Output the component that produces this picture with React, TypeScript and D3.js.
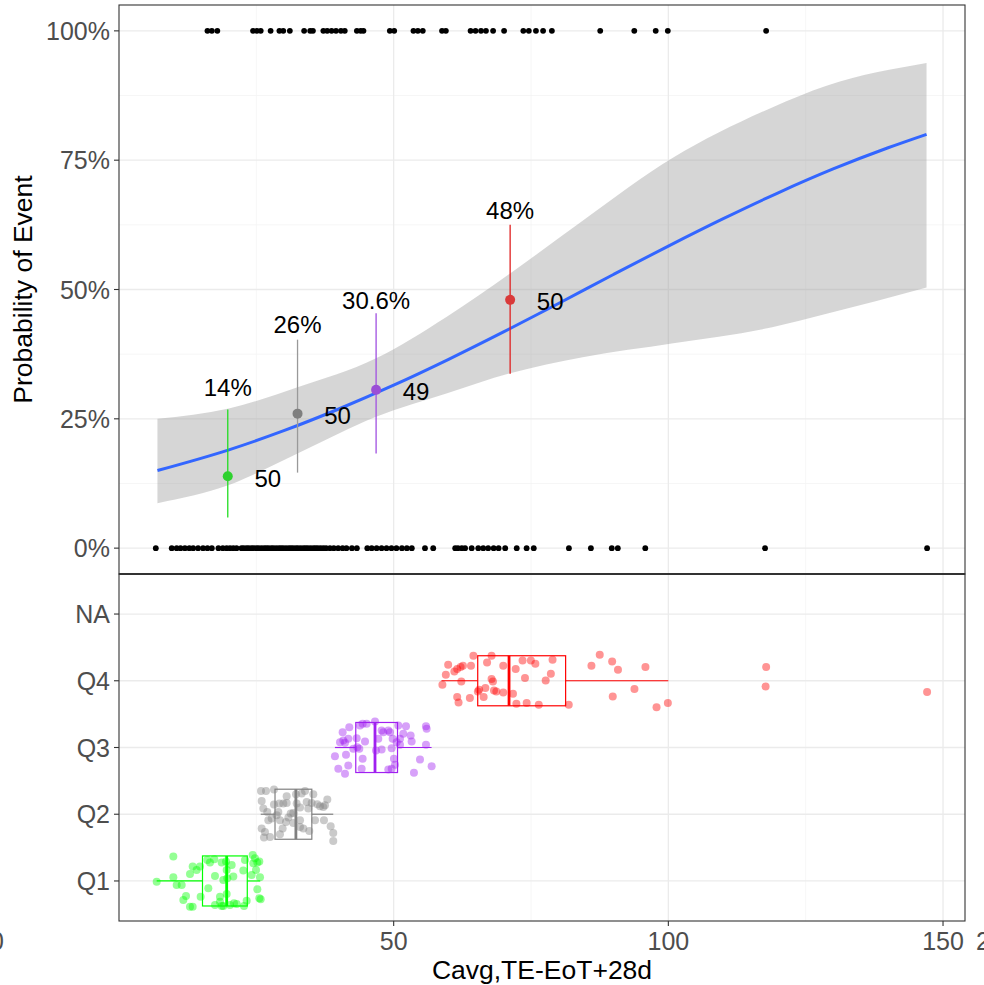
import React from "react";
import * as d3 from "d3";

// fitted logistic curve + 95% band
const fitX = [7, 20, 30, 40, 50, 60, 70, 80, 90, 100, 110, 120, 130, 140, 147];
const fitP = [0.150, 0.190, 0.227, 0.269, 0.315, 0.365, 0.418, 0.473, 0.529, 0.584, 0.637, 0.687, 0.733, 0.774, 0.800];
const ribX = [7, 20, 32.5, 46.8, 59.6, 71.2, 84.4, 100.9, 118.9, 128.8, 147];
const ribLo = [0.087, 0.122, 0.183, 0.254, 0.299, 0.338, 0.369, 0.396, 0.427, 0.453, 0.504];
const ribHi = [0.250, 0.270, 0.311, 0.367, 0.447, 0.531, 0.633, 0.755, 0.852, 0.894, 0.938];

// quartile groups
const groups = ["Q1", "Q2", "Q3", "Q4"];
const yCats = ["NA", "Q4", "Q3", "Q2", "Q1"];
const groupColors = ["#00FF00", "#808080", "#A020F0", "#FF0000"];
const pointColors = ["#2FD12F", "#7F7F7F", "#9A4ED6", "#D93A3A"];
const barColors = ["#22DD22", "#999999", "#A050E0", "#E02020"];
const groupMeanX = [19.8, 32.5, 46.8, 71.2];
const groupProb = [0.139, 0.26, 0.306, 0.48];
const groupLo = [0.059, 0.146, 0.183, 0.337];
const groupHi = [0.268, 0.403, 0.454, 0.625];
const groupN = ["50", "50", "49", "50"];
const probLabels = ["14%", "26%", "30.6%", "48%"];

// box stats: [whisker lo, q1, median, q3, whisker hi]
const boxStats = [
  [6.86, 15.2, 19.6, 23.35, 25.7],
  [25.8, 28.4, 32.2, 35.1, 39.0],
  [39.3, 43.1, 46.6, 50.7, 56.9],
  [58.7, 65.3, 71.0, 81.3, 100.0],
];

// rug: outcomes
const eventX = [16.1, 16.9, 17.9, 24.4, 25.1, 25.8, 27.6, 29.2, 29.9, 31.1, 33.7, 34.8, 35.3, 37.2, 37.9, 38.7, 39.5, 40.4, 41.1,
  43.3, 44.0, 44.5, 49.3, 50.1, 53.6, 54.4, 55.3, 58.8, 59.5, 64.0, 64.9, 65.9, 66.8, 68.1, 70.1, 73.6, 74.6, 75.9, 77.2, 78.8,
  87.6, 93.8, 97.7, 99.9, 117.8];
const noEventX = [6.7, 9.6, 10.5, 11.2, 12.0, 12.8, 13.5, 14.4, 15.3, 16.1, 16.9, 18.1, 18.9, 19.6, 20.2, 20.8, 21.4, 22.3, 22.7,
  23.2, 23.6, 24.1, 24.5, 25.0, 25.4, 25.9, 26.4, 26.8, 27.2, 27.7, 28.1, 28.6, 29.1, 29.5, 29.9, 30.4, 30.9, 31.3, 31.7, 32.2,
  32.6, 33.1, 33.6, 34.0, 34.4, 34.9, 35.4, 35.8, 36.2, 36.7, 37.2, 37.7, 38.4, 39.1, 39.9, 40.7, 41.4, 42.4, 43.3, 45.2, 46.0,
  46.9, 47.8, 48.7, 49.6, 50.5, 51.5, 52.4, 53.3, 55.7, 57.2, 61.2, 61.7, 62.4, 63.0, 64.2, 65.4, 66.3, 67.2, 68.2, 69.1, 70.3,
  72.4, 74.2, 75.5, 81.9, 85.9, 89.7, 90.8, 95.8, 117.6, 147.1];

// jittered points per group: [x, vertical jitter in category units]
const q1Pts = [[9.89, 0.365], [6.86, -0.01], [9.89, 0.055], [10.5, -0.06], [11.41, -0.06], [11.71, -0.285], [12.2, -0.225],
  [12.92, -0.385], [13.41, -0.385], [12.92, 0.105], [13.41, 0.215], [14.74, 0.215], [14.86, -0.235], [16.26, -0.11],
  [16.56, 0.275], [17.35, 0.325], [17.47, 0.075], [18.38, -0.235], [18.69, 0.275], [18.99, 0.015], [19.48, 0.29], [19.6, 0.165],
  [19.72, 0.04], [19.6, -0.195], [20.51, 0.24], [20.81, 0.065], [20.93, -0.335], [21.42, -0.345], [22.63, 0.155], [22.93, 0.315],
  [22.75, -0.375], [23.24, -0.295], [24.33, 0.39], [24.75, 0.34], [24.45, 0.265], [24.94, 0.165], [25.18, 0.275], [25.54, 0.29],
  [25.67, 0.055], [25.18, -0.125], [25.54, -0.26], [25.79, -0.275], [17.47, -0.36], [18.69, -0.375], [18.99, -0.375],
  [20.2, -0.36], [16.08, 0.315], [18.38, -0.31], [24.15, 0.09], [14.13, 0.165]];
const q2Pts = [[25.85, 0.35], [26.76, 0.35], [28.21, 0.37], [25.97, 0.2], [28.21, 0.145], [29.18, 0.16], [29.91, 0.16],
  [30.52, 0.17], [29.0, 0.035], [28.7, -0.015], [29.3, -0.09], [30.4, -0.115], [31.25, 0.01], [31.73, -0.13], [32.95, -0.09],
  [32.34, 0.16], [33.25, 0.31], [33.86, 0.35], [34.16, 0.185], [35.07, 0.17], [35.37, 0.3], [36.1, 0.15], [36.59, 0.12],
  [37.19, 0.11], [37.5, 0.135], [37.92, 0.22], [35.68, -0.09], [37.31, -0.09], [38.53, -0.18], [39.0, -0.28], [39.0, -0.4],
  [34.64, -0.25], [32.95, -0.19], [33.55, -0.215], [31.73, 0.02], [29.79, -0.215], [29.3, -0.3], [27.49, -0.34],
  [26.39, -0.35], [25.97, -0.215], [26.57, -0.265], [26.99, 0.035], [27.18, -0.09], [27.79, -0.065], [30.52, 0.27],
  [32.22, 0.3], [30.83, -0.05], [32.95, 0.1], [26.27, 0.085], [34.46, 0.085]];
const q3Pts = [[39.31, -0.13], [39.92, -0.32], [40.71, 0.23], [40.83, 0.105], [41.14, 0.07], [41.32, -0.11], [41.74, -0.27],
  [41.92, 0.305], [41.74, 0.13], [41.14, -0.395], [43.26, 0.14], [43.38, 0.005], [43.74, -0.02], [44.17, -0.32], [44.35, -0.17],
  [44.78, 0.09], [43.87, 0.33], [46.6, 0.39], [46.78, -0.045], [47.2, 0.13], [47.81, -0.03], [48.11, 0.23], [49.02, 0.255],
  [49.33, 0.23], [49.63, -0.01], [49.81, 0.13], [50.05, -0.17], [50.24, -0.26], [49.63, -0.32], [49.02, -0.33], [50.54, 0.08],
  [50.84, 0.33], [51.15, 0.13], [51.75, 0.205], [52.24, 0.32], [53.09, 0.18], [53.27, 0.09], [54.79, -0.18], [53.69, -0.38],
  [55.88, 0.32], [56.0, 0.28], [55.88, 0.04], [56.91, -0.28], [44.35, 0.355], [45.08, 0.355], [47.81, 0.255], [51.15, 0.04],
  [40.23, 0.08], [42.65, -0.02]];
const q4Pts = [[58.87, -0.06], [59.49, 0.09], [59.92, 0.24], [61.05, 0.14], [61.56, 0.175], [62.18, 0.205], [62.61, 0.225],
  [64.07, 0.225], [64.51, 0.375], [62.31, -0.01], [61.56, -0.245], [61.81, -0.325], [63.87, -0.26], [65.33, -0.16],
  [65.56, -0.135], [66.38, -0.245], [66.69, -0.11], [67.0, 0.275], [67.82, 0.375], [67.82, 0.025], [68.07, -0.01],
  [68.26, -0.145], [68.69, -0.16], [69.95, 0.225], [69.95, -0.175], [71.72, -0.195], [72.21, 0.175], [72.34, -0.345],
  [73.46, 0.305], [73.9, 0.04], [74.21, -0.335], [74.97, 0.305], [75.79, 0.255], [76.41, -0.36], [77.67, 0.005], [78.61, 0.105],
  [78.92, 0.315], [81.87, -0.36], [86.0, 0.225], [87.51, 0.39], [89.77, 0.29], [89.88, -0.235], [90.83, 0.165], [93.83, -0.125],
  [95.83, 0.205], [97.85, -0.395], [99.91, -0.335], [117.8, 0.205], [117.7, -0.085], [147.1, -0.17]];
const groupPts = [q1Pts, q2Pts, q3Pts, q4Pts];

const xTicks = [50, 100, 150];
const xMinor = [25, 75, 125];
const yTicks = [0, 0.25, 0.5, 0.75, 1];
const yMinor = [0.125, 0.375, 0.625, 0.875];

const FONT = "'Liberation Sans', Arial, sans-serif";
const TICK_SIZE = 25;
const TITLE_SIZE = 26.5;
const LABEL_SIZE = 24;

export default function App() {
  const left = 119, right = 965;
  const topY0 = 5, topY1 = 574, botY1 = 921;

  const x = d3.scaleLinear().domain([0, 154]).range([left, right]);
  const yTop = d3.scaleLinear().domain([-0.05, 1.05]).range([topY1, topY0]);
  const yBot = d3.scalePoint().domain(yCats).range([topY1, botY1]).padding(0.6);
  const step = yBot.step();

  const fitLine = d3.line<number>()
    .x((d, i) => x(fitX[i]))
    .y(d => yTop(d))
    .curve(d3.curveMonotoneX);
  const ribbon = d3.area<number>()
    .x((d, i) => x(ribX[i]))
    .y0((d, i) => yTop(ribLo[i]))
    .y1(d => yTop(d))
    .curve(d3.curveMonotoneX);

  const pct = d3.format(".0%");

  return (
    <svg width={984} height={985} style={{ position: "absolute", left: 0, top: 0, fontFamily: FONT }}>
      <rect width={984} height={985} fill="#fff" />

      {/* ---- top panel ---- */}
      <g>
        {yMinor.map(v => (
          <line key={"ym" + v} x1={left} x2={right} y1={yTop(v)} y2={yTop(v)} stroke="#F4F4F4" strokeWidth={0.8} />
        ))}
        {xMinor.map(v => (
          <line key={"xm" + v} x1={x(v)} x2={x(v)} y1={topY0} y2={topY1} stroke="#F4F4F4" strokeWidth={0.8} />
        ))}
        {yTicks.map(v => (
          <line key={"yg" + v} x1={left} x2={right} y1={yTop(v)} y2={yTop(v)} stroke="#EBEBEB" strokeWidth={1.3} />
        ))}
        {xTicks.map(v => (
          <line key={"xg" + v} x1={x(v)} x2={x(v)} y1={topY0} y2={topY1} stroke="#EBEBEB" strokeWidth={1.3} />
        ))}

        <path d={ribbon(ribHi) || ""} fill="#999999" fillOpacity={0.4} />
        <path d={fitLine(fitP) || ""} fill="none" stroke="#3366FF" strokeWidth={3} />

        {eventX.map((v, i) => (
          <circle key={"e" + i} cx={x(v)} cy={yTop(1)} r={2.9} fill="#000" />
        ))}
        {noEventX.map((v, i) => (
          <circle key={"n" + i} cx={x(v)} cy={yTop(0)} r={2.9} fill="#000" />
        ))}

        {groups.map((g, i) => (
          <g key={"pt" + g}>
            <line x1={x(groupMeanX[i])} x2={x(groupMeanX[i])} y1={yTop(groupLo[i])} y2={yTop(groupHi[i])}
              stroke={barColors[i]} strokeWidth={1.3} />
            <circle cx={x(groupMeanX[i])} cy={yTop(groupProb[i])} r={5} fill={pointColors[i]} />
            <text x={x(groupMeanX[i])} y={yTop(groupProb[i]) - 89} textAnchor="middle" dominantBaseline="central"
              fontSize={LABEL_SIZE} fill="#000">{probLabels[i]}</text>
            <text x={x(groupMeanX[i]) + 40} y={yTop(groupProb[i]) + 2} textAnchor="middle" dominantBaseline="central"
              fontSize={LABEL_SIZE} fill="#000">{groupN[i]}</text>
          </g>
        ))}

        <rect x={left} y={topY0} width={right - left} height={topY1 - topY0} fill="none" stroke="#333" strokeWidth={1.1} />
        {yTicks.map(v => (
          <g key={"yt" + v}>
            <line x1={left - 5} x2={left} y1={yTop(v)} y2={yTop(v)} stroke="#333" strokeWidth={1.1} />
            <text x={left - 9} y={yTop(v)} textAnchor="end" dominantBaseline="central" fontSize={TICK_SIZE} fill="#4D4D4D">
              {pct(v)}
            </text>
          </g>
        ))}
        <text transform={`translate(23,${(topY0 + topY1) / 2}) rotate(-90)`} textAnchor="middle" dominantBaseline="central"
          fontSize={TITLE_SIZE} fill="#000">Probability of Event</text>
      </g>

      {/* ---- bottom panel ---- */}
      <g>
        {xMinor.map(v => (
          <line key={"bxm" + v} x1={x(v)} x2={x(v)} y1={topY1} y2={botY1} stroke="#F4F4F4" strokeWidth={0.8} />
        ))}
        {yCats.map(c => (
          <line key={"byg" + c} x1={left} x2={right} y1={yBot(c)} y2={yBot(c)} stroke="#EBEBEB" strokeWidth={1.3} />
        ))}
        {xTicks.map(v => (
          <line key={"bxg" + v} x1={x(v)} x2={x(v)} y1={topY1} y2={botY1} stroke="#EBEBEB" strokeWidth={1.3} />
        ))}

        {groups.map((g, i) => {
          const cy = yBot(g) as number;
          const [wlo, q1, med, q3, whi] = boxStats[i];
          const hh = 0.375 * step;
          const col = groupColors[i];
          return (
            <g key={"box" + g}>
              {groupPts[i].map((p, j) => (
                <circle key={j} cx={x(p[0])} cy={cy - p[1] * step} r={4} fill={col} fillOpacity={0.42} />
              ))}
              <line x1={x(wlo)} x2={x(q1)} y1={cy} y2={cy} stroke={col} strokeWidth={1.2} />
              <line x1={x(q3)} x2={x(whi)} y1={cy} y2={cy} stroke={col} strokeWidth={1.2} />
              <rect x={x(q1)} y={cy - hh} width={x(q3) - x(q1)} height={2 * hh} fill="none" stroke={col} strokeWidth={1.2} />
              <line x1={x(med)} x2={x(med)} y1={cy - hh} y2={cy + hh} stroke={col} strokeWidth={2.8} />
            </g>
          );
        })}

        <rect x={left} y={topY1} width={right - left} height={botY1 - topY1} fill="none" stroke="#333" strokeWidth={1.1} />
        <line x1={left} x2={right} y1={topY1} y2={topY1} stroke="#333" strokeWidth={2} />
        {yCats.map(c => (
          <g key={"byt" + c}>
            <line x1={left - 5} x2={left} y1={yBot(c)} y2={yBot(c)} stroke="#333" strokeWidth={1.1} />
            <text x={left - 9} y={yBot(c)} textAnchor="end" dominantBaseline="central" fontSize={TICK_SIZE} fill="#4D4D4D">{c}</text>
          </g>
        ))}
        {xTicks.map(v => (
          <g key={"bxt" + v}>
            <line x1={x(v)} x2={x(v)} y1={botY1} y2={botY1 + 5} stroke="#333" strokeWidth={1.1} />
            <text x={x(v)} y={botY1 + 20} textAnchor="middle" dominantBaseline="central" fontSize={TICK_SIZE} fill="#4D4D4D">{v}</text>
          </g>
        ))}
        {/* stray clipped labels at the edges, as in the source image */}
        <text x={-3} y={botY1 + 20} textAnchor="middle" dominantBaseline="central" fontSize={TICK_SIZE} fill="#4D4D4D">0</text>
        <text x={976} y={botY1 + 20} textAnchor="start" dominantBaseline="central" fontSize={TICK_SIZE} fill="#4D4D4D">200</text>
        <text x={(left + right) / 2} y={970} textAnchor="middle" dominantBaseline="central" fontSize={TITLE_SIZE} fill="#000">
          Cavg,TE-EoT+28d
        </text>
      </g>
    </svg>
  );
}
